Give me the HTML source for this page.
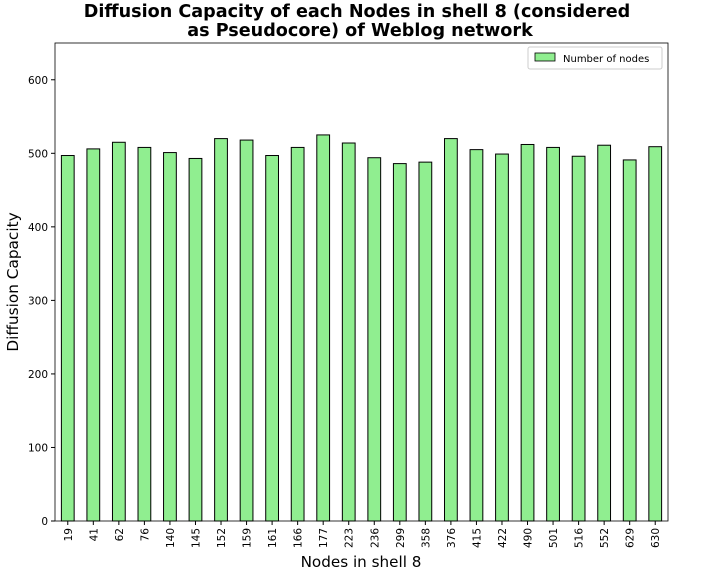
<!DOCTYPE html>
<html><head><meta charset="utf-8"><style>
body{margin:0;background:#fff;width:717px;height:571px;overflow:hidden;font-family:"Liberation Sans","DejaVu Sans",sans-serif}
</style></head><body>
<svg id="chart" width="717" height="571" xmlns="http://www.w3.org/2000/svg" font-family="DejaVu Sans, Liberation Sans, sans-serif">
<text x="357" y="17" text-anchor="middle" font-size="17.6" font-weight="bold">Diffusion Capacity of each Nodes in shell 8 (considered</text>
<text x="360" y="36" text-anchor="middle" font-size="17.6" font-weight="bold">as Pseudocore) of Weblog network</text>
<g id="plot"></g>
<text transform="translate(18,282) rotate(-90)" text-anchor="middle" font-size="15.3">Diffusion Capacity</text>
<text x="361" y="567" text-anchor="middle" font-size="15.2">Nodes in shell 8</text>
<g>
<rect x="528" y="47" width="134" height="22" fill="#fff" stroke="#ccc" rx="2"/>
<rect x="535" y="53" width="20" height="8" fill="#90ee90" stroke="#000" stroke-width="0.8"/>
<text x="563" y="62" font-size="10">Number of nodes</text>
</g>
</svg>
<script>
const categories=["19","41","62","76","140","145","152","159","161","166","177","223","236","299","358","376","415","422","490","501","516","552","629","630"];
const values=[497,506,515,508,501,493,520,518,497,508,525,514,494,486,488,520,505,499,512,508,496,511,491,509];
const yTicks=[0,100,200,300,400,500,600];
const NS="http://www.w3.org/2000/svg";
const L=55,R=668,T=43,B=521,yMax=650;
const y=v=>B-(v/yMax)*(B-T);
const step=(R-L)/categories.length;
const x=i=>L+step*(i+0.5);
const g=document.getElementById('plot');
function el(t,a){const e=document.createElementNS(NS,t);for(const k in a)e.setAttribute(k,a[k]);g.appendChild(e);return e;}
values.forEach((v,i)=>{
 const r=el('rect',{x:x(i)-step/4,y:y(v),width:step/2,height:B-y(v),fill:'#90ee90',stroke:'#000','stroke-width':1});
 
 
 const t=el('text',{transform:`translate(${x(i)+4},${B+7}) rotate(-90)`,'text-anchor':'end','font-size':10.5});
 t.textContent=categories[i];
 
 
 el('line',{x1:x(i),x2:x(i),y1:B,y2:B+4,stroke:'#000'});
});
yTicks.forEach(v=>{
 el('line',{x1:L-4,x2:L,y1:y(v),y2:y(v),stroke:'#000'});
 const t=el('text',{x:L-7,y:y(v)+4,'text-anchor':'end','font-size':10.5});
 t.textContent=v;
 
 
});
const f=el('rect',{x:L,y:T,width:R-L,height:B-T,fill:'none',stroke:'#000','stroke-width':0.8});


</script>
</body></html>
